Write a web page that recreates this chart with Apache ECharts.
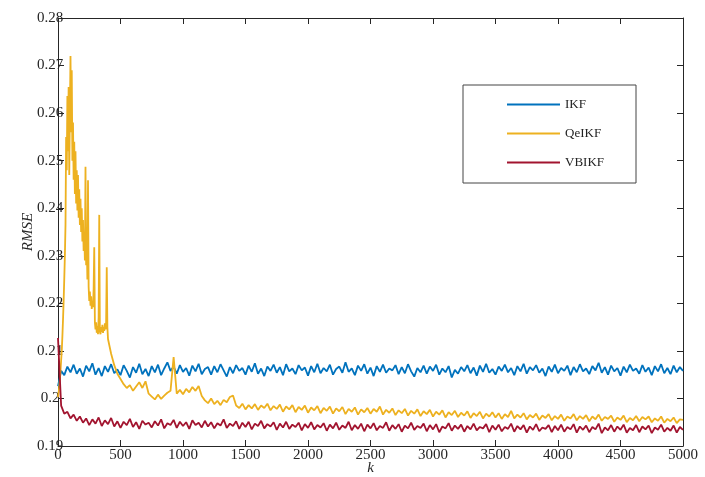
<!DOCTYPE html>
<html>
<head>
<meta charset="utf-8">
<script src="https://cdn.jsdelivr.net/npm/echarts@6.0.0/dist/echarts.min.js"></script>
<style>
  html, body { margin: 0; padding: 0; background: #fff; }
  #rmse { width: 705px; height: 477px; }
</style>
</head>
<body>
<div id="rmse"></div>
<script>
// series names
const names = ["IKF", "QeIKF", "VBIKF"];

// IKF, k = 0..5000 step 25
const ikf = [
  .2026, .2058, .2049, .2067, .2055, .2071, .2052, .2063, .2046, .2069,
  .2057, .2074, .2050, .2064, .2047, .2068, .2056, .2072, .2053, .2061,
  .2049, .2070, .2058, .2044, .2066, .2054, .2073, .2051, .2062, .2047,
  .2068, .2055, .2071, .2049, .2063, .2076, .2058, .2067, .2052, .2070,
  .2056, .2064, .2048, .2069, .2057, .2073, .2051, .2062, .2066, .2050,
  .2068, .2055, .2072, .2059, .2046, .2066, .2053, .2070, .2058, .2064,
  .2050, .2069, .2056, .2074, .2052, .2063, .2047, .2067, .2058, .2071,
  .2054, .2066, .2049, .2072, .2057, .2063, .2051, .2070, .2059, .2065,
  .2048, .2068, .2055, .2073, .2053, .2064, .2057, .2071, .2050, .2062,
  .2067, .2054, .2076, .2056, .2063, .2049, .2069, .2058, .2072, .2052,
  .2065, .2047, .2068, .2056, .2071, .2054, .2063, .2059, .2070, .2051,
  .2066, .2053, .2072, .2057, .2046, .2064, .2055, .2069, .2052, .2067,
  .2058, .2071, .2050, .2063, .2055, .2068, .2044, .2060, .2052, .2066,
  .2057, .2070, .2053, .2065, .2048, .2069, .2056, .2073, .2054, .2062,
  .2050, .2067, .2058, .2071, .2055, .2064, .2049, .2068, .2057, .2073,
  .2052, .2066, .2059, .2070, .2054, .2063, .2047, .2067, .2056, .2071,
  .2053, .2064, .2058, .2069, .2049, .2066, .2055, .2072, .2057, .2063,
  .2051, .2068, .2059, .2075, .2054, .2066, .2050, .2069, .2057, .2064,
  .2048, .2067, .2055, .2071, .2058, .2063, .2052, .2070, .2056, .2065,
  .2049, .2068, .2057, .2072, .2053, .2064, .2051, .2069, .2055, .2066,
  .2058
];

// VBIKF, k = 0..5000 step 25
const vbikf = [
  .2127, .1985, .1968, .1972, .1958, .1966, .1953, .1962, .1949, .1958,
  .1944, .1956, .1947, .1960, .1942, .1954, .1946, .1959, .1941, .1952,
  .1938, .1951, .1944, .1957, .1940, .1950, .1936, .1953, .1945, .1949,
  .1939, .1952, .1943, .1956, .1937, .1948, .1944, .1955, .1938, .1951,
  .1942, .1950, .1936, .1954, .1944, .1949, .1939, .1953, .1941, .1950,
  .1937, .1948, .1943, .1956, .1938, .1947, .1942, .1952, .1936, .1949,
  .1940, .1951, .1935, .1947, .1942, .1953, .1937, .1946, .1941, .1950,
  .1934, .1947, .1939, .1951, .1936, .1945, .1940, .1949, .1933, .1946,
  .1938, .1950, .1935, .1944, .1939, .1948, .1932, .1945, .1937, .1949,
  .1934, .1943, .1938, .1951, .1933, .1944, .1936, .1947, .1931, .1945,
  .1937, .1948, .1933, .1942, .1938, .1950, .1932, .1944, .1936, .1946,
  .1930, .1943, .1937, .1949, .1934, .1942, .1938, .1947, .1931, .1944,
  .1935, .1946, .1929, .1941, .1937, .1948, .1932, .1943, .1936, .1945,
  .1930, .1942, .1935, .1947, .1933, .1940, .1937, .1946, .1929, .1943,
  .1934, .1945, .1931, .1940, .1936, .1947, .1930, .1942, .1935, .1944,
  .1928, .1941, .1934, .1946, .1931, .1939, .1936, .1944, .1929, .1942,
  .1933, .1945, .1930, .1940, .1935, .1946, .1928, .1941, .1934, .1943,
  .1929, .1940, .1935, .1947, .1927, .1939, .1933, .1944, .1930, .1941,
  .1934, .1945, .1928, .1938, .1933, .1944, .1929, .1941, .1935, .1943,
  .1927, .1939, .1934, .1945, .1930, .1938, .1932, .1943, .1928, .1940,
  .1934
];

// QeIKF, k = 0..400 step 5 (fast transient)
const qeEarly = [
  .2003, .2012, .2025, .2040, .2058, .2080, .2100, .2130, .2165, .2205,
  .2250, .2300, .2365, .2550, .2480, .2636, .2520, .2655, .2470, .2600,
  .2720, .2560, .2690, .2500, .2580, .2460, .2540, .2430, .2520, .2410,
  .2480, .2395, .2470, .2380, .2440, .2365, .2420, .2350, .2400, .2330,
  .2375, .2310, .2350, .2290, .2487, .2280, .2330, .2250, .2459, .2235,
  .2205, .2225, .2195, .2215, .2188, .2205, .2192, .2230, .2318, .2160,
  .2145, .2160, .2138, .2152, .2135, .2170, .2386, .2140, .2135, .2150,
  .2140, .2155, .2138, .2150, .2142, .2158, .2145, .2160, .2276, .2150,
  .2125
];

// QeIKF, k = 425..5000 step 25
const qeLate = [
  .2094, .2070, .2052,
  .2041, .2030, .2022, .2028, .2016, .2025, .2034, .2022, .2036, .2010,
  .2004, .1998, .2008, .1999, .2006, .2012, .2016, .2087, .2010, .2018,
  .2009, .2020, .2013, .2024, .2016, .2026, .2005, .1996, .1990, .2000,
  .1988, .1995, .1986, .1997, .1992, .2003, .2006, .1985, .1980, .1989,
  .1977, .1986, .1979, .1988, .1976, .1985, .1980, .1989, .1975, .1984,
  .1978, .1987, .1972, .1983, .1977, .1986, .1971, .1982, .1976, .1985,
  .1970, .1981, .1975, .1984, .1969, .1980, .1974, .1983, .1968, .1979,
  .1973, .1982, .1967, .1978, .1972, .1981, .1966, .1977, .1971, .1980,
  .1968, .1978, .1972, .1983, .1966, .1976, .1970, .1979, .1965, .1975,
  .1969, .1978, .1964, .1974, .1968, .1977, .1963, .1973, .1967, .1976,
  .1962, .1972, .1966, .1975, .1960, .1971, .1965, .1974, .1961, .1970,
  .1964, .1973, .1959, .1969, .1963, .1972, .1958, .1968, .1962, .1971,
  .1960, .1969, .1957, .1967, .1961, .1974, .1958, .1966, .1960, .1969,
  .1956, .1965, .1960, .1968, .1955, .1964, .1959, .1967, .1954, .1963,
  .1957, .1966, .1953, .1962, .1958, .1967, .1954, .1963, .1957, .1965,
  .1952, .1962, .1956, .1966, .1953, .1961, .1957, .1964, .1951, .1960,
  .1955, .1964, .1950, .1959, .1954, .1963, .1952, .1961, .1956, .1962,
  .1950, .1958, .1953, .1962, .1949, .1957, .1952, .1960, .1948, .1956,
  .1955
];

// sample positions (k)
const kCoarse = [];
for (let k = 0; k <= 5000; k += 25) kCoarse.push(k);
const kEarly = [];
for (let k = 0; k <= 400; k += 5) kEarly.push(k);
const kLate = [];
for (let k = 425; k <= 5000; k += 25) kLate.push(k);

const pair = (ks, vs) => vs.map((v, i) => [ks[i], v]);
const qeData = pair(kEarly, qeEarly).concat(pair(kLate, qeLate));

const colors = ["#0072BD", "#EDB120", "#A2142F"];
const font = "'Liberation Serif', 'Times New Roman', serif";
const axisColor = "#262626";

const chart = echarts.init(document.getElementById("rmse"));

const tickStyle = { show: true, inside: true, length: 6, lineStyle: { color: axisColor } };
const lineStyle = { show: true, onZero: false, lineStyle: { color: axisColor, width: 1 } };

const option = {
  animation: false,
  backgroundColor: "#fff",
  color: colors,
  grid: { left: 58, right: 22, top: 18, bottom: 31, outerBoundsMode: "none" },
  legend: {
    data: names,
    orient: "vertical",
    left: 463,
    top: 85,
    padding: [13, 32, 14, 44],
    itemGap: 16,
    itemWidth: 53,
    itemHeight: 2,
    icon: "rect",
    borderColor: "#444",
    borderWidth: 1,
    backgroundColor: "#fff",
    textStyle: { fontFamily: font, fontSize: 13, color: "#222" },
  },
  xAxis: [
    {
      type: "value",
      min: 0,
      max: 5000,
      interval: 500,
      name: "k",
      nameLocation: "middle",
      nameGap: 15,
      nameMoveOverlap: false,
      nameTextStyle: { fontFamily: font, fontSize: 15, fontStyle: "italic", color: axisColor },
      axisLine: lineStyle,
      axisTick: tickStyle,
      splitLine: { show: false },
      axisLabel: { fontFamily: font, fontSize: 15, color: axisColor, margin: 2, formatter: (v) => String(v) },
    },
    {
      type: "value",
      position: "top",
      min: 0,
      max: 5000,
      interval: 500,
      axisLine: lineStyle,
      axisTick: tickStyle,
      splitLine: { show: false },
      axisLabel: { show: false },
    },
  ],
  yAxis: [
    {
      type: "value",
      min: 0.19,
      max: 0.28,
      interval: 0.01,
      name: "RMSE",
      nameLocation: "middle",
      nameGap: 22,
      nameMoveOverlap: false,
      nameTextStyle: { fontFamily: font, fontSize: 15, fontStyle: "italic", color: axisColor },
      axisLine: lineStyle,
      axisTick: tickStyle,
      splitLine: { show: false },
      axisLabel: {
        fontFamily: font,
        fontSize: 15,
        color: axisColor,
        align: "center",
        margin: 8,
        formatter: (v) => String(+v.toFixed(2)),
      },
    },
    {
      type: "value",
      position: "right",
      min: 0.19,
      max: 0.28,
      interval: 0.01,
      axisLine: lineStyle,
      axisTick: tickStyle,
      splitLine: { show: false },
      axisLabel: { show: false },
    },
  ],
  series: [
    {
      name: "IKF",
      type: "line",
      showSymbol: false,
      data: pair(kCoarse, ikf),
      lineStyle: { width: 1.8 },
    },
    {
      name: "QeIKF",
      type: "line",
      showSymbol: false,
      data: qeData,
      lineStyle: { width: 1.8 },
    },
    {
      name: "VBIKF",
      type: "line",
      showSymbol: false,
      data: pair(kCoarse, vbikf),
      lineStyle: { width: 1.8 },
    },
  ],
};

chart.setOption(option);
</script>
</body>
</html>
